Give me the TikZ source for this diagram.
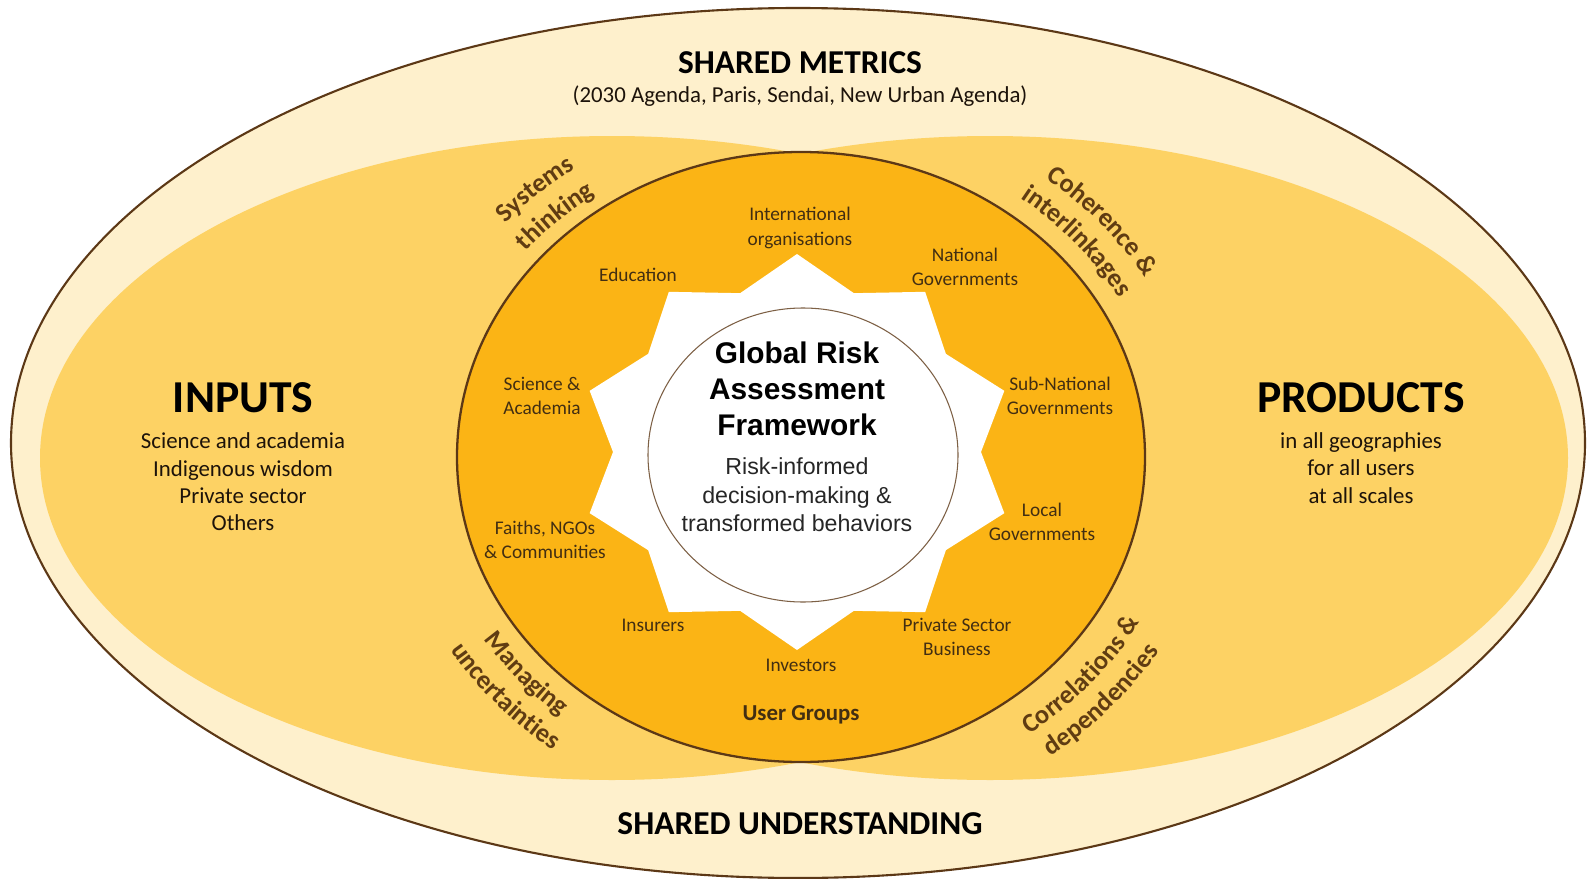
\documentclass[tikz,border=0pt]{standalone}
\usepackage{fontspec}
\setmainfont{Carlito}
\newfontfamily\arialfont{Liberation Sans}
\usepackage{tikz}
\usetikzlibrary{decorations.text}
\definecolor{cream}{RGB}{254,240,204}
\definecolor{lobe}{RGB}{253,210,100}
\definecolor{core}{RGB}{251,180,21}
\definecolor{rim}{RGB}{92,56,22}
\definecolor{groupbrown}{RGB}{66,46,18}
\definecolor{curvebrown}{RGB}{96,60,18}
\newcommand{\curvefont}{\color{curvebrown}\bfseries\fontsize{15}{18}\selectfont}
\tikzset{
    heading/.style={font=\bfseries\fontsize{19}{22}\selectfont, text=black},
    bigtitle/.style={font=\bfseries\fontsize{26}{30}\selectfont, text=black},
    listing/.style={font=\fontsize{13}{15.6}\selectfont, text=black!85!brown, align=center},
    group/.style={font=\fontsize{11}{14}\selectfont, text=groupbrown, align=center},
    curved/.style={decorate, decoration={text along path, text align=center, text={|\curvefont|#1}}},
}

\begin{document}
\begin{tikzpicture}[x=0.02cm, y=-0.02cm]
\useasboundingbox (0,0) rectangle (1587,879);
\filldraw[color=rim, fill=cream, line width=1.2pt] (798,443) ellipse [x radius=787, y radius=435];
\fill[lobe] (612,458) ellipse [x radius=572, y radius=322];
\fill[lobe] (990,458) ellipse [x radius=578, y radius=322];
\filldraw[color=rim, fill=core, line width=1.3pt] (801,457) ellipse [x radius=344, y radius=305];
\begin{scope}[shift={(797,452)}]
\fill[white] (90:218 and 198) \foreach \i in {0,...,9}{ -- ({108+36*\i}:184 and 167) -- ({126+36*\i}:218 and 198)} -- cycle;
\end{scope}
\filldraw[color=rim!80, fill=white, line width=0.6pt] (803,455) ellipse [x radius=155, y radius=147];

\node[heading] (metrics) at (800,63) {SHARED METRICS};
\node[font=\fontsize{13}{15}\selectfont, text=black!85!brown] (agendas) at (800,96) {(2030 Agenda, Paris, Sendai, New Urban Agenda)};
\node[heading] (understanding) at (800,824) {SHARED UNDERSTANDING};

\node[bigtitle] (inputs) at (243,398) {INPUTS};
\node[listing] (inputlist) at (243,482) {Science and academia\\Indigenous wisdom\\Private sector\\Others};
\node[bigtitle] (products) at (1361,398) {PRODUCTS};
\node[listing] (productlist) at (1361,468) {in all geographies\\for all users\\at all scales};

\node[font=\arialfont\bfseries\fontsize{17}{20.5}\selectfont, align=center] (grafname) at (797,389) {Global Risk\\Assessment\\Framework};
\node[font=\arialfont\fontsize{13.2}{16.2}\selectfont, align=center, text=black!85] (grafaim) at (797,495) {Risk-informed\\decision-making \&\\transformed behaviors};

\node[group] (intl) at (800,228) {International\\organisations};
\node[group] (edu) at (638,275) {Education};
\node[group] (natgov) at (965,267) {National\\Governments};
\node[group] (sci) at (542,396) {Science \&\\Academia};
\node[group] (subnat) at (1060,396) {Sub-National\\Governments};
\node[group] (faiths) at (545,540) {Faiths, NGOs\\\& Communities};
\node[group] (localgov) at (1042,522) {Local\\Governments};
\node[group] (insurers) at (653,625) {Insurers};
\node[group] (private) at (957,637) {Private Sector\\Business};
\node[group] (investors) at (801,665) {Investors};
\node[group, font=\bfseries\fontsize{13}{15}\selectfont] (users) at (801,715) {User Groups};

% labels bent round the user groups
\begin{scope}[shift={(801,457)}]
\path[curved={Systems}] (-167.6:396 and 351) arc[start angle=-167.6, end angle=-97.6, x radius=396, y radius=351];
\path[curved={thinking}] (-168.4:360 and 319) arc[start angle=-168.4, end angle=-98.4, x radius=360, y radius=319];
\path[curved={Coherence {\&}}] (-75.3:399 and 353) arc[start angle=-75.3, end angle=-5.3, x radius=399, y radius=353];
\path[curved={interlinkages}] (-75.2:365 and 324) arc[start angle=-75.2, end angle=-5.2, x radius=365, y radius=324];
\path[curved={Managing}] (-185.7:378 and 336) arc[start angle=-185.7, end angle=-255.7, x radius=378, y radius=336];
\path[curved={uncertainties}] (-186.5:413 and 366) arc[start angle=-186.5, end angle=-256.5, x radius=413, y radius=366];
\path[curved={Correlations {\&}}] (75.4:387 and 343) arc[start angle=75.4, end angle=5.4, x radius=387, y radius=343];
\path[curved={dependencies}] (76.5:420 and 372) arc[start angle=76.5, end angle=6.5, x radius=420, y radius=372];
\end{scope}
\end{tikzpicture}
\end{document}
